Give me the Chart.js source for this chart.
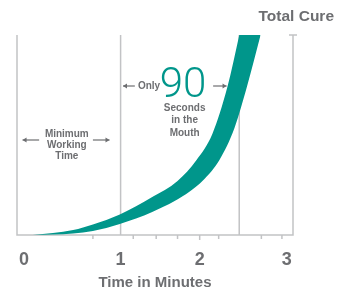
<!DOCTYPE html>
<html>
<head>
<meta charset="utf-8">
<script src="https://cdn.jsdelivr.net/npm/chart.js@4/dist/chart.umd.min.js"></script>
<style>
  html, body { margin: 0; padding: 0; background: #fff; }
  #wrap { width: 348px; height: 291px; position: relative; }
</style>
</head>
<body>
<div id="wrap"><canvas id="chart"></canvas></div>
<script>
// cure curve band (minutes, % of cure) - upper/left edge and lower/right edge
const upperX = [-0.11, 0.40, 0.65, 0.99, 1.40, 1.72, 1.96, 2.16, 2.35, 2.50, 2.77];
const upperY = [0, 2.5, 5.25, 10.25, 19, 27, 37.5, 50.5, 74, 100, 152];
const lowerX = [-0.11, 0.40, 0.65, 0.99, 1.40, 1.83, 2.06, 2.25, 2.44, 2.60, 2.77];
const lowerY = [0, 0.75, 2, 5.5, 11.5, 20.5, 28, 37.5, 53.5, 74.5, 100];

// axis
const tickValues = [-0.22, 1, 2, 3.1];
const tickLabels = ['0', '1', '2', '3'];
const minorTicks = [0.65, 1.16, 1.45, 1.72, 2, 2.24, 2.78, 3.04];
const guideLines = [1, 2.5];

const TEAL = '#00968b';
const GREY = '#6d6e71';
const LINE = '#c2c3c5';

const upper = upperX.map((x, i) => ({ x, y: upperY[i] }));
const lower = lowerX.map((x, i) => ({ x, y: lowerY[i] }));

function arrow(ctx, x1, x2, y, dir) {
    ctx.beginPath();
    ctx.moveTo(x1, y);
    ctx.lineTo(x2, y);
    ctx.stroke();
    const tip = dir < 0 ? x1 : x2;
    ctx.beginPath();
    ctx.moveTo(tip, y);
    ctx.lineTo(tip - dir * 4, y - 2.5);
    ctx.lineTo(tip - dir * 4, y + 2.5);
    ctx.closePath();
    ctx.fill();
}

const decor = {
    id: 'decor',
    beforeDatasetsDraw(chart) {
        const { ctx, chartArea: a, scales: { x } } = chart;
        ctx.save();
        ctx.strokeStyle = LINE;
        ctx.lineWidth = 1.5;
        // frame lines
        ctx.beginPath();
        ctx.moveTo(a.left, a.top); ctx.lineTo(a.left, a.bottom);
        ctx.lineTo(a.right, a.bottom); ctx.lineTo(a.right, a.top);
        ctx.moveTo(a.right - 4, a.top); ctx.lineTo(a.right + 4, a.top);
        guideLines.forEach(v => {
            const px = x.getPixelForValue(v);
            ctx.moveTo(px, a.top); ctx.lineTo(px, a.bottom);
        });
        ctx.stroke();
        // minor ticks
        ctx.beginPath();
        minorTicks.forEach(v => {
            const px = x.getPixelForValue(v);
            ctx.moveTo(px, a.bottom); ctx.lineTo(px, a.bottom + (v === 2 ? 5 : 4));
        });
        ctx.stroke();
        ctx.restore();
    },
    afterDraw(chart) {
        const { ctx, scales: { x, y } } = chart;
        ctx.save();
        ctx.fillStyle = GREY;
        ctx.strokeStyle = GREY;
        ctx.lineWidth = 1.2;
        ctx.textAlign = 'center';
        ctx.textBaseline = 'middle';
        ctx.font = 'bold 10px "Liberation Sans", Arial, sans-serif';

        // Minimum Working Time
        const cx1 = x.getPixelForValue(0.32);
        ['Minimum', 'Working', 'Time'].forEach((t, i) => {
            ctx.fillText(t, cx1, y.getPixelForValue(50.5) + i * 11);
        });
        const ay1 = y.getPixelForValue(47.5);
        arrow(ctx, x.getPixelForValue(-0.24), x.getPixelForValue(-0.03), ay1, -1);
        arrow(ctx, x.getPixelForValue(0.65), x.getPixelForValue(0.86), ay1, 1);

        // Only 90 Seconds in the Mouth
        const ay2 = y.getPixelForValue(74.5);
        ctx.fillText('Only', x.getPixelForValue(1.36), ay2);
        arrow(ctx, x.getPixelForValue(1.03), x.getPixelForValue(1.18), ay2, -1);
        arrow(ctx, x.getPixelForValue(2.17), x.getPixelForValue(2.34), ay2, 1);
        const cx2 = x.getPixelForValue(1.81);
        ['Seconds', 'in the', 'Mouth'].forEach((t, i) => {
            ctx.fillText(t, cx2, y.getPixelForValue(63.5) + i * 12.5);
        });
        ctx.fillStyle = TEAL;
        ctx.textAlign = 'left';
        ctx.textBaseline = 'alphabetic';
        ctx.font = '300 42px Roboto, "Open Sans", sans-serif';
        ctx.fillText('90', x.getPixelForValue(1.52) - 2, y.getPixelForValue(69));

        // Total Cure
        ctx.fillStyle = GREY;
        ctx.textAlign = 'right';
        ctx.textBaseline = 'middle';
        ctx.font = 'bold 15.5px "Liberation Sans", Arial, sans-serif';
        ctx.fillText('Total Cure', 334, 17);
        ctx.restore();
    }
};

new Chart(document.getElementById('chart'), {
    type: 'line',
    data: {
        datasets: [
            { label: 'lower', data: lower, borderWidth: 0, pointRadius: 0, fill: false, cubicInterpolationMode: 'monotone' },
            { label: 'upper', data: upper, borderWidth: 0, pointRadius: 0, fill: '-1', backgroundColor: TEAL, cubicInterpolationMode: 'monotone' }
        ]
    },
    options: {
        responsive: true,
        maintainAspectRatio: false,
        animation: false,
        layout: { padding: { left: 17, right: 55, top: 35, bottom: 0 } },
        plugins: { legend: { display: false }, tooltip: { enabled: false } },
        scales: {
            x: {
                type: 'linear',
                min: -0.31,
                max: 3.18,
                grid: { display: false, drawTicks: false },
                border: { display: false },
                afterBuildTicks: s => { s.ticks = tickValues.map(v => ({ value: v })); },
                afterFit: s => { s.height = 56; },
                ticks: {
                    padding: 14,
                    color: GREY,
                    font: { family: '"Liberation Sans Narrow", "Liberation Sans", Arial, sans-serif', size: 18, weight: 'bold' },
                    callback: (v, i) => tickLabels[i]
                },
                title: {
                    display: true,
                    text: 'Time in Minutes',
                    color: GREY,
                    padding: { top: 0, bottom: -1 },
                    font: { family: '"Liberation Sans", Arial, sans-serif', size: 15, weight: 'bold' }
                }
            },
            y: { type: 'linear', min: 0, max: 100, display: false }
        }
    },
    plugins: [decor]
});
</script>
</body>
</html>
